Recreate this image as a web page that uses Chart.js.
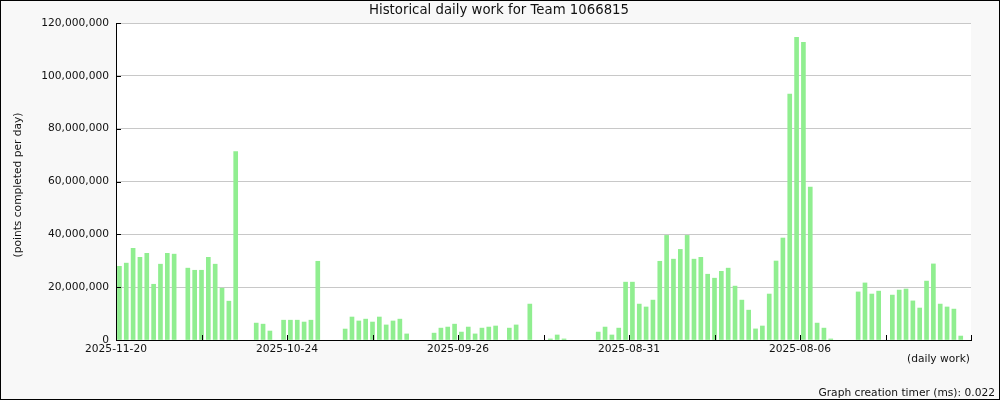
<!DOCTYPE html>
<html>
<head>
<meta charset="utf-8">
<script src="https://cdn.jsdelivr.net/npm/chart.js@4"></script>
<style>
  body { margin: 0; background: #f8f8f8; }
  #wrap { width: 1000px; height: 400px; }
</style>
</head>
<body>
<div id="wrap"><canvas id="grafico" width="1000" height="400"></canvas></div>
<script>
// daily work, millions of points, newest day first (null = no work that day)
const dailyWorkM = [
  27.9, 29.1, 34.7, 31.3, 32.8, 21.1, 28.7, 32.8, 32.5, null,
  27.2, 26.4, 26.4, 31.3, 28.7, 19.6, 14.7, 71.3, null, null,
  6.4, 6.0, 3.4, null, 7.5, 7.5, 7.5, 6.8, 7.5, 29.8,
  null, null, null, 4.15, 8.7, 7.2, 7.9, 6.8, 8.7, 5.7,
  7.2, 7.9, 2.3, null, null, null, 2.6, 4.5, 4.9, 6.0,
  3.0, 4.9, 2.3, 4.5, 4.9, 5.3, null, 4.5, 5.7, null,
  13.6, null, null, 0.4, 1.9, 0.4, null, null, null, null,
  3.0, 4.9, 1.9, 4.5, 21.9, 21.9, 13.6, 12.5, 15.1, 29.8,
  39.6, 30.6, 34.3, 39.6, 30.6, 31.3, 24.9, 23.4, 26.0, 27.2,
  20.4, 15.1, 11.3, 4.2, 5.3, 17.4, 29.9, 38.6, 93.1, 114.6,
  112.7, 57.9, 6.4, 4.5, 0.4, null, null, null, 18.2, 21.6,
  17.4, 18.5, null, 17.0, 18.9, 19.3, 14.8, 12.1, 22.3, 28.8,
  13.6, 12.5, 11.7, 1.5, null
];
// one label every 25 days
const tickDates = ['2025-11-20', '2025-10-24', '2025-09-26', '2025-08-31', '2025-08-06'];
const yTicks = [0, 20, 40, 60, 80, 100, 120];

const fuente = 'DejaVu Sans';
const puntos = dailyWorkM.map((v, i) => ({ x: i + 0.5, y: v === null ? null : v * 1e6 }));

const decorado = {
  id: 'decorado',
  beforeDraw(chart) {
    const { ctx, chartArea: a } = chart;
    ctx.save();
    ctx.fillStyle = '#f8f8f8';
    ctx.fillRect(0, 0, chart.width, chart.height);
    ctx.fillStyle = '#ffffff';
    ctx.fillRect(a.left, a.top, a.right - a.left, a.bottom - a.top);
    ctx.restore();
  },
  afterDraw(chart) {
    const { ctx, chartArea: a, scales } = chart;
    ctx.save();
    // ticks hacia adentro
    ctx.strokeStyle = '#000';
    ctx.lineWidth = 1;
    ctx.beginPath();
    scales.x.ticks.forEach(t => {
      const px = Math.round(scales.x.getPixelForValue(t.value)) + 0.5;
      ctx.moveTo(px, a.bottom);
      ctx.lineTo(px, a.bottom - 5);
    });
    scales.y.ticks.forEach(t => {
      const py = Math.round(scales.y.getPixelForValue(t.value)) + 0.5;
      ctx.moveTo(a.left, py);
      ctx.lineTo(a.left + 5, py);
    });
    ctx.stroke();

    ctx.fillStyle = '#111';
    ctx.textBaseline = 'middle';
    ctx.font = '13.3px ' + fuente;
    ctx.textAlign = 'center';
    ctx.fillText('Historical daily work for Team 1066815', 499, 11);

    ctx.font = '10.67px ' + fuente;
    ctx.textAlign = 'right';
    ctx.fillText('(daily work)', 970, 359);
    ctx.fillText('Graph creation timer (ms): 0.022', 995, 393);

    ctx.translate(18, 185);
    ctx.rotate(-Math.PI / 2);
    ctx.textAlign = 'center';
    ctx.fillText('(points completed per day)', 0, 0);
    ctx.restore();

    ctx.save();
    ctx.strokeStyle = '#000';
    ctx.strokeRect(0.5, 0.5, chart.width - 1, chart.height - 1);
    ctx.restore();
  }
};

new Chart(document.getElementById('grafico'), {
  type: 'bar',
  data: {
    datasets: [{
      label: 'daily work',
      data: puntos,
      backgroundColor: '#90ee90',
      barThickness: 4
    }]
  },
  options: {
    responsive: false,
    animation: false,
    devicePixelRatio: 1,
    layout: { padding: { top: 23, right: 29, left: 0, bottom: 0 } },
    plugins: { legend: { display: false }, tooltip: { enabled: false }, title: { display: false } },
    scales: {
      x: {
        type: 'linear',
        offset: false,
        min: 0,
        max: dailyWorkM.length,
        afterFit: s => { s.height = 60; },
        border: { display: true, color: '#000' },
        grid: { offset: false, drawOnChartArea: false, drawTicks: false },
        ticks: {
          stepSize: 12.5,
          autoSkip: false,
          maxRotation: 0,
          padding: 3,
          color: '#111',
          font: { family: fuente, size: 10.67 },
          callback: v => (v % 25 === 0 && v / 25 < tickDates.length) ? tickDates[v / 25] : ''
        }
      },
      y: {
        min: 0,
        max: yTicks[yTicks.length - 1] * 1e6,
        afterFit: s => { s.width = 116; },
        afterBuildTicks: s => { s.ticks = yTicks.map(v => ({ value: v * 1e6 })); },
        border: { display: true, color: '#000' },
        grid: { color: '#c8c8c8', drawTicks: false },
        ticks: {
          padding: 7,
          color: '#111',
          font: { family: fuente, size: 10.67 },
          callback: v => v.toLocaleString('en-US')
        }
      }
    }
  },
  plugins: [decorado]
});
</script>
</body>
</html>
